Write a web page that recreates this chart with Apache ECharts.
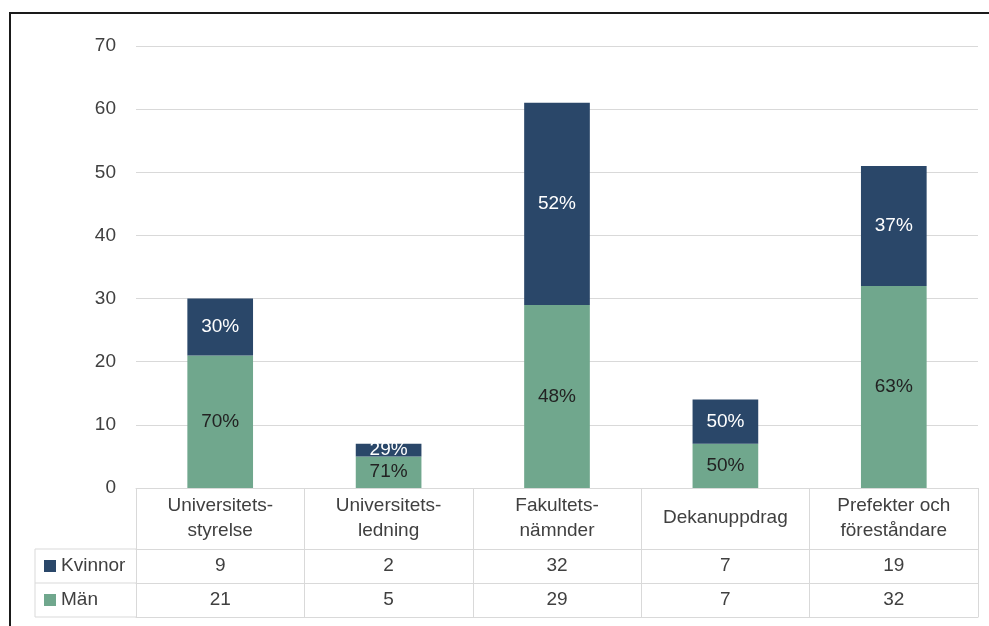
<!DOCTYPE html>
<html>
<head>
<meta charset="utf-8">
<script src="https://cdn.jsdelivr.net/npm/echarts@6/dist/echarts.min.js"></script>
<style>html,body{margin:0;padding:0;background:#fff}#c{width:989px;height:626px}</style>
</head>
<body>
<div id="c"></div>
<script>
const categories = ["Universitets-\nstyrelse", "Universitets-\nledning", "Fakultets-\nnämnder", "Dekanuppdrag", "Prefekter och\nföreståndare"];
const kvinnor = [9, 2, 32, 7, 19];
const man = [21, 5, 29, 7, 32];
const yTicks = [0, 10, 20, 30, 40, 50, 60, 70];

const FONT = 'Liberation Sans';
const FS = 19;
const TXT = '#404040';
const LINE = '#d9d9d9';
const NAVY = '#2a4769';
const GREEN = '#70a78d';

function pct(v, i) { return Math.round(v / (kvinnor[i] + man[i]) * 100) + '%'; }

const chart = echarts.init(document.getElementById('c'));
chart.setOption({
  animation: false,
  backgroundColor: '#fff',
  textStyle: { fontFamily: FONT },
  grid: { left: 136, right: 11, top: 46, bottom: 138, containLabel: false },
  legend: {
    orient: 'vertical', left: 44, top: 556, padding: 0,
    itemWidth: 12, itemHeight: 12, itemGap: 14, icon: 'rect',
    data: ['Kvinnor', 'Män'],
    textStyle: { fontFamily: FONT, fontSize: FS, color: TXT, lineHeight: 20 }
  },
  yAxis: {
    type: 'value', min: yTicks[0], max: yTicks[yTicks.length - 1], interval: 10,
    axisLine: { show: false }, axisTick: { show: false },
    axisLabel: { fontFamily: FONT, fontSize: FS, color: TXT, margin: 20 },
    splitLine: { lineStyle: { color: LINE, width: 1 } }
  },
  xAxis: [
    {
      type: 'category', data: categories, position: 'bottom',
      axisLine: { lineStyle: { color: LINE } },
      axisTick: { show: true, interval: 0, length: 129, lineStyle: { color: LINE } },
      axisLabel: { interval: 0, fontFamily: FONT, fontSize: FS, color: TXT, lineHeight: 25, verticalAlign: 'middle', margin: 30 }
    },
    {
      type: 'category', data: kvinnor.map(String), position: 'bottom', offset: 61,
      axisLine: { lineStyle: { color: LINE } }, axisTick: { show: false },
      axisLabel: { interval: 0, fontFamily: FONT, fontSize: FS, color: TXT, verticalAlign: 'middle', margin: 17 }
    },
    {
      type: 'category', data: man.map(String), position: 'bottom', offset: 95,
      axisLine: { lineStyle: { color: LINE } }, axisTick: { show: false },
      axisLabel: { interval: 0, fontFamily: FONT, fontSize: FS, color: TXT, verticalAlign: 'middle', margin: 17 }
    },
    {
      type: 'category', data: categories, position: 'bottom', offset: 129,
      axisLine: { lineStyle: { color: LINE } }, axisTick: { show: false },
      axisLabel: { show: false }
    }
  ],
  series: [
    {
      name: 'Män', type: 'bar', stack: 'a', data: man, barWidth: '39%',
      itemStyle: { color: GREEN },
      label: { show: true, position: 'inside', fontFamily: FONT, fontSize: FS, color: '#222',
        formatter: p => pct(p.value, p.dataIndex) }
    },
    {
      name: 'Kvinnor', type: 'bar', stack: 'a', data: kvinnor, barWidth: '39%',
      itemStyle: { color: NAVY },
      label: { show: true, position: 'inside', fontFamily: FONT, fontSize: FS, color: '#fff',
        formatter: p => pct(p.value, p.dataIndex) }
    }
  ],
  graphic: [
    { type: 'rect', shape: { x: 10, y: 13, width: 1100, height: 800 }, style: { fill: null, stroke: '#1a1a1a', lineWidth: 2 }, silent: true },
    { type: 'line', shape: { x1: 35, y1: 549, x2: 136, y2: 549 }, style: { stroke: LINE, lineWidth: 1 } },
    { type: 'line', shape: { x1: 35, y1: 583, x2: 136, y2: 583 }, style: { stroke: LINE, lineWidth: 1 } },
    { type: 'line', shape: { x1: 35, y1: 617, x2: 136, y2: 617 }, style: { stroke: LINE, lineWidth: 1 } },
    { type: 'line', shape: { x1: 35, y1: 549, x2: 35, y2: 617 }, style: { stroke: LINE, lineWidth: 1 } }
  ]
});
</script>
</body>
</html>
